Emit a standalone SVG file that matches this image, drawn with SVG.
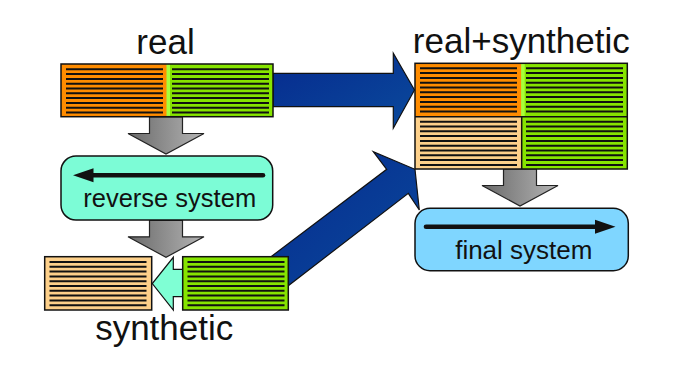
<svg xmlns="http://www.w3.org/2000/svg" xmlns:xlink="http://www.w3.org/1999/xlink" width="679" height="372" viewBox="0 0 679 372">
  <style>
    .lbl { font-family: "Liberation Sans", Arial, Helvetica, sans-serif; fill: #111; text-anchor: middle; }
    .big { font-size: 35px; }
    .mid { font-size: 25.5px; }
    .cell { stroke: #111; stroke-width: 1.5; }
    .orange { fill: #ff8c00; }
    .pale { fill: #fdd08a; }
    .green { fill: #86e400; }
    .edge { fill: #a6ff3a; }
    .stripe { stroke: #111; stroke-width: 2; }
    .sys { stroke: #111; stroke-width: 1.5; }
    .flow { stroke: #111; stroke-width: 4.6; stroke-linecap: round; fill: none; }
    .blue { fill: url(#blueGrad); stroke: #111; stroke-width: 1.2; }
    .gray { fill: url(#grayGrad); stroke: #222; stroke-width: 1.2; }
  </style>
  <defs>
    <linearGradient id="grayGrad" x1="0" y1="0" x2="1" y2="0">
      <stop offset="0" stop-color="#6a6a6a"/>
      <stop offset="1" stop-color="#b4b4b4"/>
    </linearGradient>
    <linearGradient id="blueGrad" x1="0" y1="0" x2="1" y2="1">
      <stop offset="0" stop-color="#062a8e"/>
      <stop offset="1" stop-color="#0a4a9c"/>
    </linearGradient>
    <!-- ten horizontal record lines -->
    <g id="stripes" class="stripe">
      <line x1="0" y1="0" x2="97" y2="0"/>
      <line x1="0" y1="4.8" x2="97" y2="4.8"/>
      <line x1="0" y1="9.6" x2="97" y2="9.6"/>
      <line x1="0" y1="14.4" x2="97" y2="14.4"/>
      <line x1="0" y1="19.2" x2="97" y2="19.2"/>
      <line x1="0" y1="24" x2="97" y2="24"/>
      <line x1="0" y1="28.8" x2="97" y2="28.8"/>
      <line x1="0" y1="33.6" x2="97" y2="33.6"/>
      <line x1="0" y1="38.4" x2="97" y2="38.4"/>
      <line x1="0" y1="43.2" x2="97" y2="43.2"/>
    </g>
    <!-- downward block arrow, top centre at origin -->
    <path id="downArrow" d="M-16.5,0 H16.5 V16.5 H38 L0,37 L-38,16.5 H-16.5 Z"/>
  </defs>

  <rect width="679" height="372" fill="#fff"/>

  <!-- connectors -->
  <g id="connectors">
    <path class="blue" d="M273,73.3 H393.3 V53.3 L414.5,90 L393.3,128.3 V106.7 H273 Z"/>
    <path class="blue" d="M268,259 L386.7,169.3 L373.3,151.7 L415,169.3 L419.3,210 L408.3,193.3 L284,289 Z"/>
    <use href="#downArrow" class="gray" x="166" y="117"/>
    <use href="#downArrow" class="gray" x="166" y="220.3"/>
    <use href="#downArrow" class="gray" x="520" y="169"/>
    <path d="M182.7,269.3 H173.3 V257.3 L152.3,283.5 L173.3,310 V296.7 H182.7 Z" fill="#7fffd4" stroke="#111" stroke-width="1.2"/>
  </g>

  <!-- real data -->
  <g id="real">
    <rect class="orange" x="61" y="64" width="106" height="52.7"/>
    <rect class="green" x="167" y="64" width="106" height="52.7"/>
    <rect class="edge" x="166.5" y="64" width="3.5" height="52.7"/>
    <use href="#stripes" x="66" y="69.3"/>
    <use href="#stripes" x="172" y="69.3"/>
    <rect x="61" y="64" width="212" height="52.7" fill="none" class="cell"/>
    <text class="lbl big" x="165.5" y="54.3">real</text>
  </g>

  <!-- reverse system -->
  <g id="reverse-system">
    <rect class="sys" x="61" y="156" width="211.7" height="64" rx="15" fill="#7cfcd6"/>
    <line class="flow" x1="263" y1="175.3" x2="90" y2="175.3"/>
    <polygon points="73,175.3 93.5,168.3 93.5,182.3" fill="#111"/>
    <text class="lbl mid" x="169.7" y="207">reverse system</text>
  </g>

  <!-- synthetic data -->
  <g id="synthetic">
    <rect class="pale cell" x="44.7" y="256.7" width="107" height="53.3"/>
    <use href="#stripes" x="49.5" y="262"/>
    <rect class="green cell" x="182.7" y="256.7" width="105.6" height="53.3"/>
    <use href="#stripes" x="187.5" y="262"/>
    <text class="lbl big" x="164.2" y="340">synthetic</text>
  </g>

  <!-- combined real + synthetic data -->
  <g id="real-synthetic">
    <rect class="orange" x="415" y="63.3" width="106.7" height="53.4"/>
    <rect class="green" x="521.7" y="63.3" width="105.6" height="53.4"/>
    <rect class="edge" x="521.2" y="63.3" width="3.5" height="53.4"/>
    <rect class="pale" x="415" y="116.7" width="106.7" height="52.3"/>
    <rect class="green" x="521.7" y="116.7" width="105.6" height="52.3"/>
    <use href="#stripes" x="420" y="68.3"/>
    <use href="#stripes" x="526" y="68.3"/>
    <use href="#stripes" x="420" y="121.7"/>
    <use href="#stripes" x="526" y="121.7"/>
    <line x1="415" y1="116.7" x2="627.3" y2="116.7" stroke="#111" stroke-width="1.5"/>
    <line x1="521.7" y1="116.7" x2="521.7" y2="169" stroke="#111" stroke-width="1.5"/>
    <rect x="415" y="63.3" width="212.3" height="105.7" fill="none" class="cell"/>
    <text class="lbl big" x="521.3" y="53.3">real+synthetic</text>
  </g>

  <!-- final system -->
  <g id="final-system">
    <rect class="sys" x="415" y="208.3" width="213.3" height="62.4" rx="15" fill="#7fd6ff"/>
    <line class="flow" x1="426" y1="226.7" x2="598" y2="226.7"/>
    <polygon points="615.5,226.7 595,219.7 595,233.7" fill="#111"/>
    <text class="lbl mid" x="523.8" y="259.3" style="font-size:26px">final system</text>
  </g>
</svg>
